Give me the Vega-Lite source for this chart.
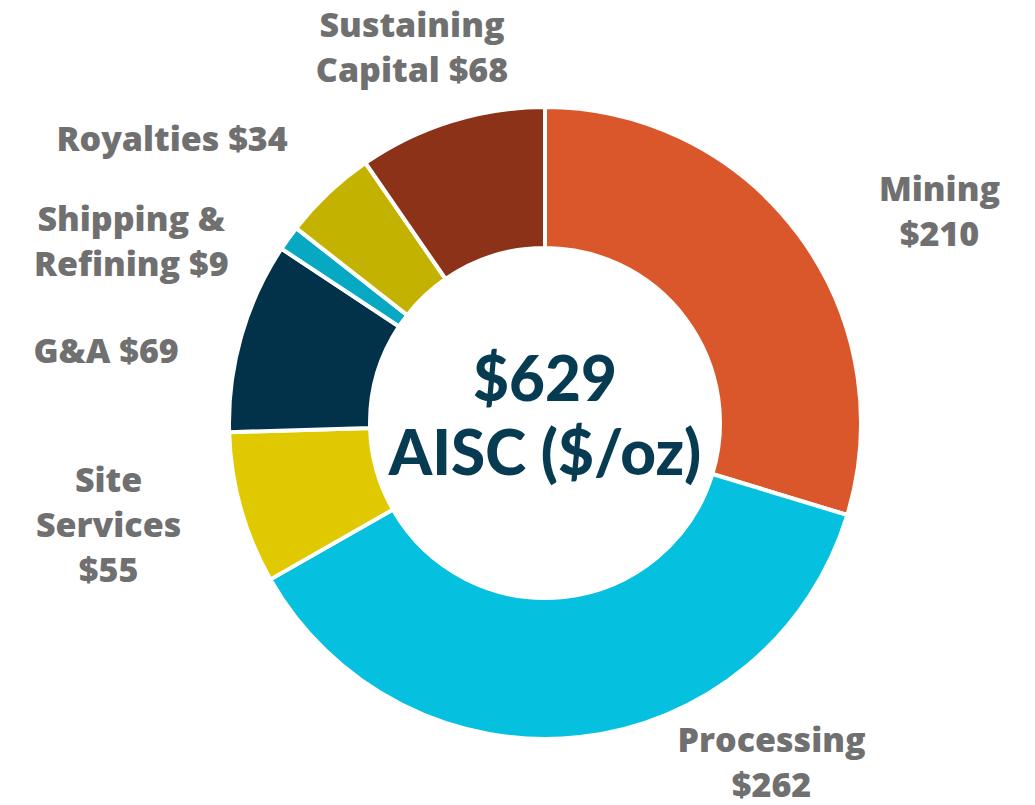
{
  "$schema": "https://vega.github.io/schema/vega-lite/v6.json",
  "width": 980,
  "height": 764,
  "autosize": {"type": "none"},
  "padding": {"left": 55, "top": 41, "right": 0, "bottom": 0},
  "background": "white",
  "config": {"view": {"stroke": null}},
  "datasets": {
    "costs": [
      {"category": "Mining", "value": 210, "order": 1, "label": "Mining\n$210"},
      {"category": "Processing", "value": 262, "order": 2, "label": "Processing\n$262"},
      {"category": "Site Services", "value": 55, "order": 3, "label": "Site\nServices\n$55"},
      {"category": "G&A", "value": 69, "order": 4, "label": "G&A $69"},
      {"category": "Shipping & Refining", "value": 9, "order": 5, "label": "Shipping &\nRefining $9"},
      {"category": "Royalties", "value": 34, "order": 6, "label": "Royalties $34"},
      {"category": "Sustaining Capital", "value": 68, "order": 7, "label": "Sustaining\nCapital $68"}
    ],
    "center": [{"t": "$629\nAISC ($/oz)"}]
  },
  "layer": [
    {
      "data": {"name": "costs"},
      "mark": {"type": "arc", "outerRadius": 316, "innerRadius": 175, "stroke": "white", "strokeWidth": 4},
      "encoding": {
        "theta": {"field": "value", "type": "quantitative", "stack": true},
        "order": {"field": "order", "type": "quantitative"},
        "color": {
          "field": "category", "type": "nominal", "legend": null,
          "scale": {
            "domain": ["Mining", "Processing", "Site Services", "G&A", "Shipping & Refining", "Royalties", "Sustaining Capital"],
            "range": ["#DA572B", "#06C0DF", "#E0C900", "#01324A", "#06A8C2", "#C4B200", "#8B3219"]
          }
        }
      }
    },
    {
      "data": {"name": "costs"},
      "mark": {"type": "text", "radius": 420, "dx": 57, "dy": 18, "font": "Open Sans", "fontWeight": 800, "fontSize": 34, "lineHeight": 45, "lineBreak": "\n", "color": "#707070", "align": "center", "baseline": "middle"},
      "encoding": {
        "theta": {"field": "value", "type": "quantitative", "stack": true},
        "order": {"field": "order", "type": "quantitative"},
        "detail": {"field": "category"},
        "text": {"condition": {"test": "datum.category === 'Mining'", "field": "label"}, "value": ""}
      }
    },
    {
      "data": {"name": "costs"},
      "mark": {"type": "text", "radius": 420, "dx": 180, "dy": -98, "font": "Open Sans", "fontWeight": 800, "fontSize": 34, "lineHeight": 45, "lineBreak": "\n", "color": "#707070", "align": "center", "baseline": "middle"},
      "encoding": {
        "theta": {"field": "value", "type": "quantitative", "stack": true},
        "order": {"field": "order", "type": "quantitative"},
        "detail": {"field": "category"},
        "text": {"condition": {"test": "datum.category === 'Processing'", "field": "label"}, "value": ""}
      }
    },
    {
      "data": {"name": "costs"},
      "mark": {"type": "text", "radius": 420, "dx": -32, "dy": -54, "font": "Open Sans", "fontWeight": 800, "fontSize": 34, "lineHeight": 45, "lineBreak": "\n", "color": "#707070", "align": "center", "baseline": "middle"},
      "encoding": {
        "theta": {"field": "value", "type": "quantitative", "stack": true},
        "order": {"field": "order", "type": "quantitative"},
        "detail": {"field": "category"},
        "text": {"condition": {"test": "datum.category === 'Site Services'", "field": "label"}, "value": ""}
      }
    },
    {
      "data": {"name": "costs"},
      "mark": {"type": "text", "radius": 420, "dx": -35, "dy": 45, "font": "Open Sans", "fontWeight": 800, "fontSize": 34, "lineHeight": 45, "lineBreak": "\n", "color": "#707070", "align": "center", "baseline": "middle"},
      "encoding": {
        "theta": {"field": "value", "type": "quantitative", "stack": true},
        "order": {"field": "order", "type": "quantitative"},
        "detail": {"field": "category"},
        "text": {"condition": {"test": "datum.category === 'G&A'", "field": "label"}, "value": ""}
      }
    },
    {
      "data": {"name": "costs"},
      "mark": {"type": "text", "radius": 420, "dx": -73, "dy": 44, "font": "Open Sans", "fontWeight": 800, "fontSize": 34, "lineHeight": 45, "lineBreak": "\n", "color": "#707070", "align": "center", "baseline": "middle"},
      "encoding": {
        "theta": {"field": "value", "type": "quantitative", "stack": true},
        "order": {"field": "order", "type": "quantitative"},
        "detail": {"field": "category"},
        "text": {"condition": {"test": "datum.category === 'Shipping & Refining'", "field": "label"}, "value": ""}
      }
    },
    {
      "data": {"name": "costs"},
      "mark": {"type": "text", "radius": 420, "dx": -85, "dy": 24, "font": "Open Sans", "fontWeight": 800, "fontSize": 34, "lineHeight": 45, "lineBreak": "\n", "color": "#707070", "align": "center", "baseline": "middle"},
      "encoding": {
        "theta": {"field": "value", "type": "quantitative", "stack": true},
        "order": {"field": "order", "type": "quantitative"},
        "detail": {"field": "category"},
        "text": {"condition": {"test": "datum.category === 'Royalties'", "field": "label"}, "value": ""}
      }
    },
    {
      "data": {"name": "costs"},
      "mark": {"type": "text", "radius": 420, "dx": -8, "dy": 5, "font": "Open Sans", "fontWeight": 800, "fontSize": 34, "lineHeight": 45, "lineBreak": "\n", "color": "#707070", "align": "center", "baseline": "middle"},
      "encoding": {
        "theta": {"field": "value", "type": "quantitative", "stack": true},
        "order": {"field": "order", "type": "quantitative"},
        "detail": {"field": "category"},
        "text": {"condition": {"test": "datum.category === 'Sustaining Capital'", "field": "label"}, "value": ""}
      }
    },
    {
      "data": {"name": "center"},
      "mark": {"type": "text", "font": "Lato", "fontWeight": 900, "fontSize": 62, "lineHeight": 74, "lineBreak": "\n", "color": "#063B52", "align": "center", "baseline": "middle", "dy": -41},
      "encoding": {
        "text": {"field": "t"}
      }
    }
  ]
}
